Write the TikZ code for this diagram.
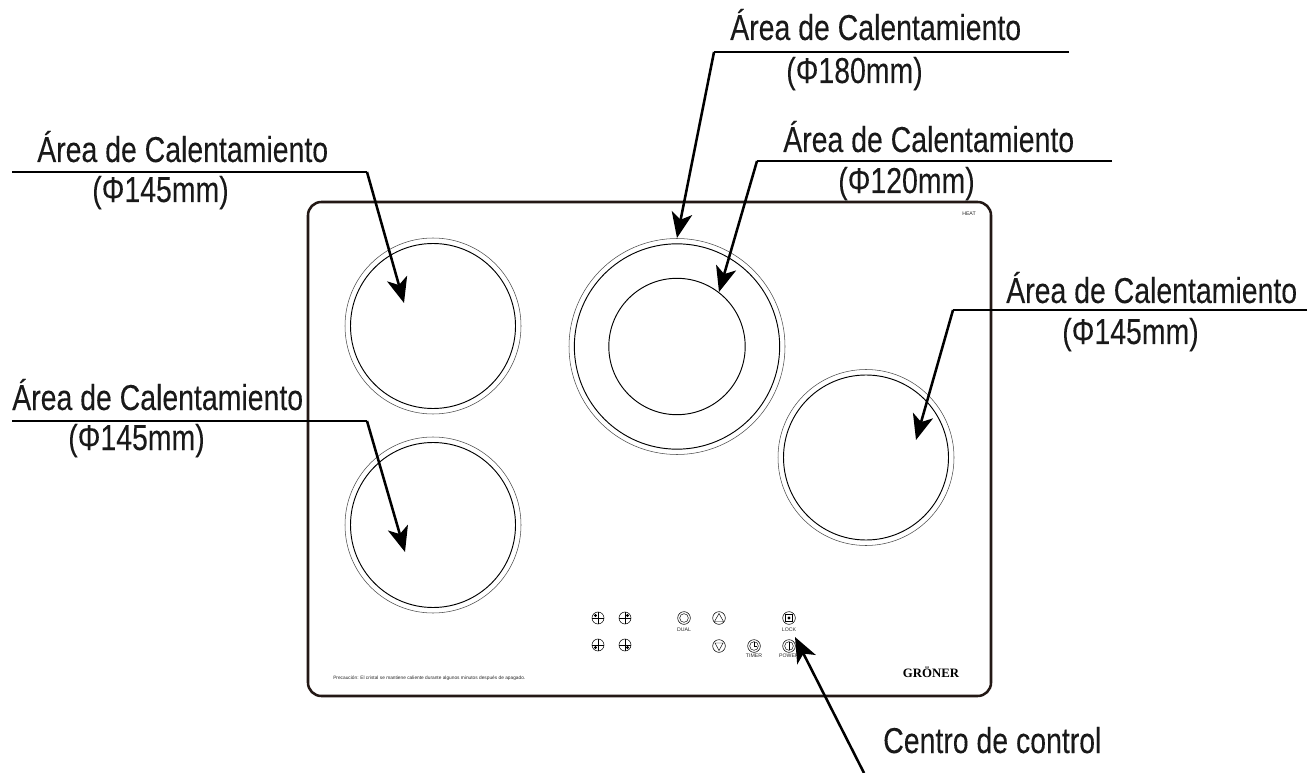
\documentclass[tikz,border=0pt]{standalone}
\usepackage{fontspec}
\setmainfont{Liberation Sans}
\newfontfamily\labfont[FakeStretch=0.79,FakeBold=0.12]{Liberation Sans}
\newfontfamily\brandfont{Liberation Serif}
\usetikzlibrary{arrows.meta}
\definecolor{panelink}{HTML}{231815}
\tikzset{
  lab/.style={anchor=base west,inner sep=0pt,font=\labfont\fontsize{27}{27}\selectfont,text=black!90},
  tiny/.style={anchor=center,inner sep=0pt,font=\fontsize{3.9}{4}\selectfont,text=black!85},
  lead/.style={draw=black,line width=1.9pt,line join=miter,-{Stealth[length=19pt,width=15.5pt,inset=5pt]}},
  rail/.style={draw=black,line width=1.9pt},
  panel/.style={draw=panelink,line width=1.9pt,rounded corners=10pt},
  outer/.style={circle,draw=black!70,line width=.4pt,inner sep=0pt,outer sep=0pt},
  inner/.style={circle,draw=black,line width=.7pt,inner sep=0pt,outer sep=0pt},
  btn/.style={circle,draw=black,line width=.4pt,inner sep=0pt,outer sep=0pt,minimum size=9.5pt},
  btnin/.style={circle,draw=black,line width=.35pt,inner sep=0pt,outer sep=0pt,minimum size=6.5pt},
  dotmark/.style={circle,fill=black,inner sep=0pt,minimum size=2.4pt},
}
\begin{document}
\begin{tikzpicture}[x=0.75pt,y=-0.75pt]
\useasboundingbox (0,0) rectangle (1316,773);
% panel
\draw[panel] (308,202) rectangle (991,696);
% burners
\node[outer,minimum size=132pt] (b1o) at (433,326) {};
\node[inner,minimum size=123.75pt] (b1i) at (433,326) {};
\node[outer,minimum size=132pt] (b2o) at (433,525) {};
\node[inner,minimum size=123.75pt] (b2i) at (433,525) {};
\node[outer,minimum size=162pt] (b3o) at (677,346.5) {};
\node[inner,minimum size=154pt] (b3i) at (677,346.5) {};
\node[inner,minimum size=102.3pt] (b3s) at (677,346.5) {};
\node[outer,minimum size=132pt] (b4o) at (866,457.5) {};
\node[inner,minimum size=123.75pt] (b4i) at (866,457.5) {};
% cross buttons
\foreach \n/\cx/\cy/\dx/\dy in {c1/598/618/-2.5/-2.5,c2/625/618/2.5/-2.5,c3/598/645/-2.5/2.5,c4/625/645/2.5/2.5}{
  \node[btn,minimum size=9pt] (\n) at (\cx,\cy) {};
  \draw[line width=.5pt] (\n.north) -- (\n.south) (\n.west) -- (\n.east);
  \node[dotmark] at (\cx+\dx,\cy+\dy) {};
}
% function buttons
\node[btn] (dual) at (684,618) {};
\node[btnin] at (684,618) {};
\node[tiny] (duallab) at (684,630) {DUAL};
\node[btn] (up) at (719,618) {};
\draw[line width=.35pt] (714.5,621.5) -- (723.5,621.5) -- (719,613.5) -- cycle;
\node[btn] (down) at (719,646) {};
\draw[line width=.35pt] (715,643) -- (723,643) -- (719,650.5) -- cycle;
\node[btn] (timer) at (754,646) {};
\node[btnin] (timerin) at (754,646) {};
\draw[line width=.35pt] (754,642) -- (754,646) -- (757,646);
\node[tiny] (timerlab) at (754,656) {TIMER};
\node[btn] (lock) at (789,618) {};
\draw[line width=.5pt] (785.5,614.5) rectangle (792.5,621.5);
\node[dotmark] at (789,618) {};
\node[tiny] (locklab) at (789,630) {LOCK};
\node[btn] (power) at (789,646) {};
\node[btnin] (powerin) at (789,646) {};
\draw[line width=.5pt] (789,642) -- (789,650);
\node[tiny] (powerlab) at (789,656) {POWER};
% panel texts
\node[tiny,anchor=base west,font=\fontsize{3.6}{4}\selectfont] (warn) at (333,679) {Precaución: El cristal se mantiene caliente durante algunos minutos después de apagado.};
\node[tiny] (heat) at (969,214) {HEAT};
\node[anchor=center,inner sep=0pt,font=\brandfont\bfseries\fontsize{9.6}{10}\selectfont] (brand) at (931,672) {GRÖNER};
% labels
\node[lab] (t1) at (730,40) {Área de Calentamiento};
\node[lab] (t1b) at (786,83) {(Φ180mm)};
\node[lab] (t2) at (783,152) {Área de Calentamiento};
\node[lab] (t2b) at (838,193) {(Φ120mm)};
\node[lab] (t3) at (37,162) {Área de Calentamiento};
\node[lab] (t3b) at (92,202) {(Φ145mm)};
\node[lab] (t4) at (12,410) {Área de Calentamiento};
\node[lab] (t4b) at (68,450) {(Φ145mm)};
\node[lab] (t5) at (1006,303) {Área de Calentamiento};
\node[lab] (t5b) at (1062,344) {(Φ145mm)};
\node[lab] (t6) at (883,753) {Centro de control};
% connectors
\coordinate (k1) at (714,52); \coordinate (e1) at (1069,52); \coordinate (h1) at (677,238);
\coordinate (k2) at (757,161); \coordinate (e2) at (1112,161); \coordinate (h2) at (719,292);
\coordinate (k3) at (367,172); \coordinate (e3) at (12,172); \coordinate (h3) at (404,303);
\coordinate (k4) at (367,421); \coordinate (e4) at (12,421); \coordinate (h4) at (405,552);
\coordinate (k5) at (953,310); \coordinate (e5) at (1307,310); \coordinate (h5) at (916,440);
\coordinate (k6) at (864,773); \coordinate (h6) at (795,637);
\draw[rail] (e1) -- (k1);
\draw[rail] (e2) -- (k2);
\draw[rail] (e3) -- (k3);
\draw[rail] (e4) -- (k4);
\draw[rail] (e5) -- (k5);
\draw[lead] (k1) -- (h1);
\draw[lead] (k2) -- (h2);
\draw[lead] (k3) -- (h3);
\draw[lead] (k4) -- (h4);
\draw[lead] (k5) -- (h5);
\draw[lead] (k6) -- (h6);
\end{tikzpicture}
\end{document}
